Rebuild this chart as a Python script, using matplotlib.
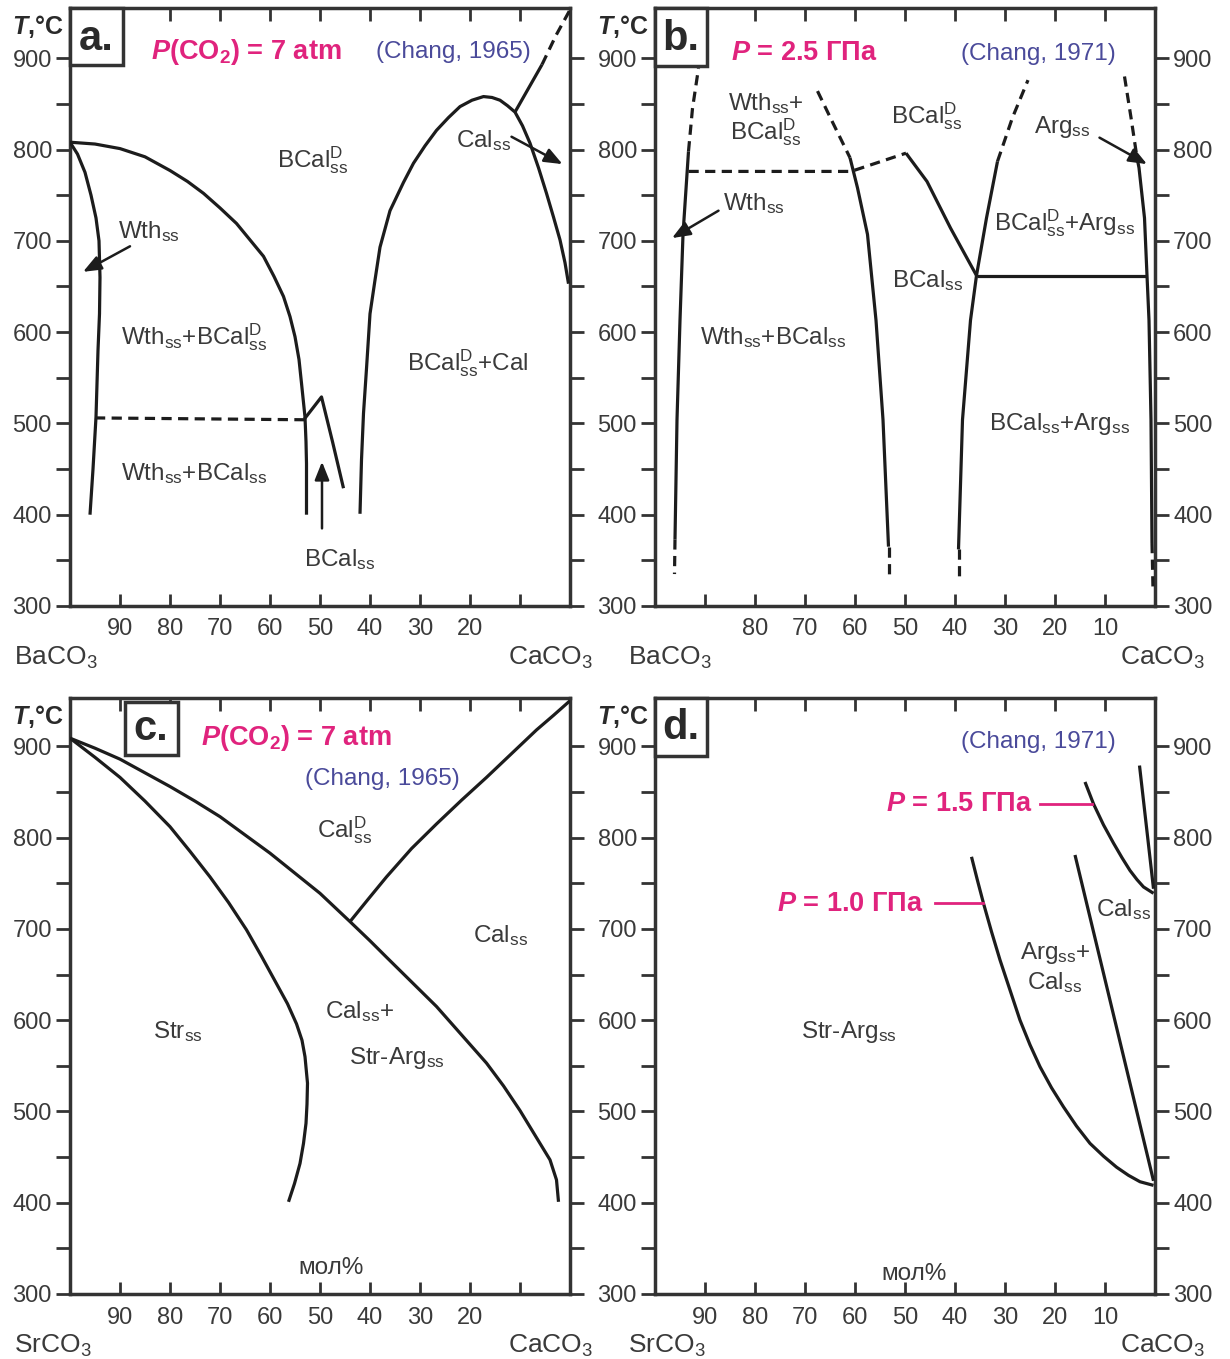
import matplotlib
matplotlib.use('Agg')
import matplotlib.pyplot as plt
from matplotlib.patches import Rectangle

plt.rcParams['font.family'] = ['Liberation Sans', 'DejaVu Sans']
plt.rcParams['mathtext.fontset'] = 'custom'
plt.rcParams['mathtext.rm'] = 'Liberation Sans'
plt.rcParams['mathtext.it'] = 'Liberation Sans:italic:bold'
plt.rcParams['mathtext.bf'] = 'Liberation Sans:bold'

# ---------------- data (x = mol% of the first end-member, T in deg C) ----------------
x_ticks = [90, 80, 70, 60, 50, 40, 30, 20, 10]
y_major = [300, 400, 500, 600, 700, 800, 900]
y_minor = [350, 450, 550, 650, 750, 850]
xlab_a = [90, 80, 70, 60, 50, 40, 30, 20]
xlab_b = [80, 70, 60, 50, 40, 30, 20, 10]
xlab_c = [90, 80, 70, 60, 50, 40, 30, 20]
xlab_d = [90, 80, 70, 60, 50, 40, 30, 20, 10]

# panel a: BaCO3-CaCO3, P(CO2)=7 atm
a_wth_x = [100, 98.5, 97, 95.8, 94.8, 94.2, 94.0, 94.1, 94.4, 94.8, 95.4, 96.0]
a_wth_T = [808, 795, 775, 750, 725, 700, 660, 620, 580, 507, 450, 400]
a_bcd_x = [100, 95, 90, 85, 80, 76.5, 73.3, 70, 66.7, 64, 61.3, 59.2, 57.3, 56, 55, 54.2, 53.7, 53.0, 52.8, 52.7, 52.7]
a_bcd_T = [808, 806, 801, 792, 777, 765, 752, 736, 719, 701, 683, 661, 639, 617, 595, 570, 544, 507, 480, 456, 400]
a_dash_x = [95.0, 53.1]
a_dash_T = [506, 504]
a_peak_x = [53.1, 49.7, 47.5, 45.3]
a_peak_T = [505, 529, 480, 429]
a_dome_x = [42.0, 41.7, 41.3, 40.7, 40.0, 39.0, 38.0, 36.0, 35.3, 33.3, 31.3, 29.0, 26.7, 24.3, 22.0, 19.6, 17.3, 15.6, 14.0, 12.5, 11.0, 9.5, 8.0, 6.3, 4.7, 3.3, 2.0, 1.0, 0.3]
a_dome_T = [401, 460, 511, 560, 620, 657, 693, 733, 741, 764, 785, 804, 821, 835, 847, 854, 858, 857, 854, 848, 841, 826, 807, 780, 752, 726, 701, 676, 653]
a_br_x = [11.0, 8.2, 5.6]
a_br_T = [841, 868, 893]
a_brd_x = [5.6, 2.8, 0.0]
a_brd_T = [893, 925, 953]

# panel b: BaCO3-CaCO3, P=2.5 GPa
b_wth_x = [96.0, 95.6, 95.0, 94.4, 93.3]
b_wth_T = [373, 504, 613, 707, 798]
b_wthd_top_x = [93.3, 92.5, 91.3]
b_wthd_top_T = [798, 845, 889]
b_wthd_bot_x = [96.0, 96.1]
b_wthd_bot_T = [373, 335]
b_hd_x = [93.3, 60.8, 49.8]
b_hd_T = [776, 776, 796]
b_mid_top_x = [67.5, 64.5, 61.0]
b_mid_top_T = [864, 830, 791]
b_mid_x = [61.0, 59.5, 57.5, 55.8, 54.4, 53.3]
b_mid_T = [791, 758, 707, 613, 504, 365]
b_mid_bot_x = [53.3, 53.3]
b_mid_bot_T = [365, 329]
b_bcal_x = [49.8, 45.6, 40.9, 35.7]
b_bcal_T = [796, 765, 714, 662]
b_h_x = [35.7, 1.6]
b_h_T = [662, 662]
b_la_x = [39.3, 38.5, 36.9, 35.7, 33.7, 31.5]
b_la_T = [362, 504, 613, 662, 725, 787]
b_la_top_x = [31.5, 28.5, 25.4]
b_la_top_T = [787, 835, 876]
b_la_bot_x = [39.3, 39.3]
b_la_bot_T = [362, 331]
b_ra_top_x = [6.1, 4.8, 3.6]
b_ra_top_T = [880, 835, 791]
b_ra_x = [3.6, 3.2, 2.1, 1.6, 1.2, 0.8, 0.6]
b_ra_T = [791, 780, 725, 662, 613, 504, 369]
b_ra_bot_x = [0.6, 0.4]
b_ra_bot_T = [369, 318]

# panel c: SrCO3-CaCO3, P(CO2)=7 atm
c_out_x = [100, 95, 90, 85, 80, 75, 70, 65, 60, 55, 50, 44, 40, 36.7, 31.7, 26.7, 21.7, 16.7, 13.3, 10, 7, 4, 2.7, 2.3]
c_out_T = [909, 898, 886, 871, 856, 840, 823, 803, 783, 761, 739, 708, 687, 669, 642, 615, 584, 553, 528, 501, 474, 447, 425, 401]
c_in_x = [100, 95, 90, 85, 80, 76, 72, 68.3, 64.7, 61.7, 58.7, 56.5, 54.7, 53.6, 53.0, 52.5, 52.6, 52.8, 53.3, 54.0, 55.1, 56.3]
c_in_T = [909, 888, 866, 840, 812, 785, 757, 729, 699, 670, 640, 618, 596, 578, 560, 531, 508, 487, 465, 443, 421, 401]
c_up_x = [44, 40.3, 36.7, 31.7, 26.7, 21.7, 16.7, 11.7, 6.7, 3.3, 0]
c_up_T = [708, 733, 757, 788, 815, 841, 866, 892, 918, 934, 950]

# panel d: SrCO3-CaCO3, P=1.0 and 1.5 GPa
d_10l_x = [36.7, 35.5, 34.3, 32.7, 31.0, 29.0, 27.0, 25.0, 23.0, 20.7, 18.3, 15.7, 13.0, 10.3, 7.7, 5.3, 3.0, 0.3]
d_10l_T = [779, 753, 728, 697, 666, 633, 600, 573, 549, 526, 505, 484, 465, 451, 439, 430, 423, 419]
d_10r_x = [16.0, 0.3]
d_10r_T = [781, 424]
d_15l_x = [14.0, 12.3, 10.3, 8.3, 6.6, 5.0, 3.6, 2.3, 0.3]
d_15l_T = [861, 837, 814, 794, 778, 764, 754, 746, 739]
d_15r_x = [3.1, 0.3]
d_15r_T = [879, 744]

# ---------------- styles ----------------
LC = '#1c1c1c'
SC = '#333333'
TC = '#3a3a3a'
MAG = '#e0237d'
BLU = '#4a4a9a'
LW = 2.3
DASH = (0, (3.2, 2.0))
LFS = 17.5

BCD = r"BCal$^{\mathrm{D}}_{\mathrm{ss}}$"
def ss(s):
    return s + r"$_{\mathrm{ss}}$"

fig = plt.figure(figsize=(12.3, 13.59), dpi=100)
W, H = 1230.0, 1359.0
ax_a = fig.add_axes([70 / W, (H - 606) / H, 500 / W, 598 / H])
ax_b = fig.add_axes([655 / W, (H - 606) / H, 500 / W, 598 / H])
ax_c = fig.add_axes([70 / W, (H - 1294) / H, 500 / W, 596 / H])
ax_d = fig.add_axes([655 / W, (H - 1294) / H, 500 / W, 596 / H])


def setup(ax, ytop, xlabels, right_lab, left_name, lname_fx, rname_fx, tag, box, tag_xy):
    ax.set_xlim(100, 0)
    ax.set_ylim(300, ytop)
    ax.set_xticks(x_ticks, labels=[str(v) if v in xlabels else '' for v in x_ticks])
    ax.set_yticks(y_major, labels=[str(v) for v in y_major])
    ax.set_yticks(y_minor, minor=True)
    ax.tick_params(axis='x', which='both', direction='in', top=True, bottom=True,
                   length=9, width=2.0, pad=9, labelsize=17, color=SC, labelcolor=TC)
    ax.tick_params(axis='y', which='both', direction='out', left=True, right=True,
                   length=10, width=2.0, pad=3, labelsize=17, color=SC, labelcolor=TC,
                   labelright=right_lab)
    for s in ax.spines.values():
        s.set_linewidth(2.5)
        s.set_color(SC)
    ax.set_facecolor('white')
    ax.text(-0.116, 0.956, r"$\mathit{T}$,°C", transform=ax.transAxes, ha='left',
            va='baseline', fontsize=18, fontweight='bold', color='#2a2a2a', clip_on=False)
    ax.text(lname_fx, -0.098, left_name, transform=ax.transAxes, ha='left',
            va='baseline', fontsize=19, color=TC, clip_on=False)
    ax.text(rname_fx, -0.098, r"CaCO$_{\mathrm{3}}$", transform=ax.transAxes, ha='right',
            va='baseline', fontsize=19, color=TC, clip_on=False)
    x0, x1, t0, t1 = box
    ax.add_patch(Rectangle((x0, t0), x1 - x0, t1 - t0, facecolor='white',
                           edgecolor=SC, lw=2.5, zorder=6, clip_on=False))
    ax.text(tag_xy[0], tag_xy[1], tag, ha='center', va='center', fontsize=30,
            fontweight='bold', color='#2a2a2a', zorder=7)


def curve(ax, x, T, dashed=False):
    ax.plot(x, T, color=LC, lw=LW, ls=DASH if dashed else '-',
            solid_capstyle='butt', dash_capstyle='butt', solid_joinstyle='round', zorder=3)


def lab(ax, x, T, s, **kw):
    p = dict(ha='center', va='baseline', fontsize=LFS, color=TC)
    p.update(kw)
    ax.text(x, T, s, **p)


def arrow(ax, tail, head):
    ax.annotate('', xy=head, xytext=tail,
                arrowprops=dict(arrowstyle='-|>,head_length=0.55,head_width=0.22',
                                color=LC, lw=1.8, shrinkA=0, shrinkB=0,
                                mutation_scale=20), zorder=4)


# ---------------- panel a ----------------
ax = ax_a
setup(ax, 955, xlab_a, False, r"BaCO$_{\mathrm{3}}$", -0.112, 1.046, 'a.',
      (100, 89.5, 893, 955), (94.8, 921))
curve(ax, a_wth_x, a_wth_T)
curve(ax, a_bcd_x, a_bcd_T)
curve(ax, a_dash_x, a_dash_T, dashed=True)
curve(ax, a_peak_x, a_peak_T)
curve(ax, a_dome_x, a_dome_T)
curve(ax, a_br_x, a_br_T)
curve(ax, a_brd_x, a_brd_T, dashed=True)
arrow(ax, (88, 694), (97.4, 666))
arrow(ax, (11.7, 814), (1.5, 784))
arrow(ax, (49.6, 385), (49.6, 458))
lab(ax, 64.7, 899, r"$\mathit{P}$(CO$_{\mathbf{2}}$) = 7 atm", fontsize=19.5,
    fontweight='bold', color=MAG)
lab(ax, 23.3, 900, "(Chang, 1965)", fontsize=17.5, color=BLU)
lab(ax, 51.4, 780, BCD)
lab(ax, 84.2, 703, ss("Wth"))
lab(ax, 17.2, 803, ss("Cal"))
lab(ax, 75.1, 587, ss("Wth") + "+" + BCD)
lab(ax, 20.5, 558, BCD + "+Cal")
lab(ax, 75.1, 438, ss("Wth") + "+" + ss("BCal"))
lab(ax, 46.0, 344, ss("BCal"))

# ---------------- panel b ----------------
ax = ax_b
setup(ax, 955, xlab_b, True, r"BaCO$_{\mathrm{3}}$", -0.054, 1.10, 'b.',
      (100, 89.7, 891, 955), (94.9, 921))
curve(ax, b_wth_x, b_wth_T)
curve(ax, b_wthd_top_x, b_wthd_top_T, dashed=True)
curve(ax, b_wthd_bot_x, b_wthd_bot_T, dashed=True)
curve(ax, b_hd_x, b_hd_T, dashed=True)
curve(ax, b_mid_top_x, b_mid_top_T, dashed=True)
curve(ax, b_mid_x, b_mid_T)
curve(ax, b_mid_bot_x, b_mid_bot_T, dashed=True)
curve(ax, b_bcal_x, b_bcal_T)
curve(ax, b_h_x, b_h_T)
curve(ax, b_la_x, b_la_T)
curve(ax, b_la_top_x, b_la_top_T, dashed=True)
curve(ax, b_la_bot_x, b_la_bot_T, dashed=True)
curve(ax, b_ra_top_x, b_ra_top_T, dashed=True)
curve(ax, b_ra_x, b_ra_T)
curve(ax, b_ra_bot_x, b_ra_bot_T, dashed=True)
arrow(ax, (87.3, 733), (96.6, 703))
arrow(ax, (11.1, 813), (1.6, 784))
lab(ax, 70.2, 898, r"$\mathit{P}$ = 2.5 ГПа", fontsize=19.5, fontweight='bold', color=MAG)
lab(ax, 23.4, 898, "(Chang, 1971)", fontsize=17.5, color=BLU)
lab(ax, 77.8, 843, ss("Wth") + "+")
lab(ax, 77.8, 811, BCD)
lab(ax, 45.7, 829, BCD)
lab(ax, 18.5, 818, ss("Arg"))
lab(ax, 80.2, 734, ss("Wth"))
lab(ax, 18.1, 711, BCD + "+" + ss("Arg"))
lab(ax, 45.5, 649, ss("BCal"))
lab(ax, 76.4, 587, ss("Wth") + "+" + ss("BCal"))
lab(ax, 19.0, 493, ss("BCal") + "+" + ss("Arg"))

# ---------------- panel c ----------------
ax = ax_c
setup(ax, 953, xlab_c, False, r"SrCO$_{\mathrm{3}}$", -0.112, 1.046, 'c.',
      (89.0, 78.5, 891, 949), (83.8, 919))
curve(ax, c_out_x, c_out_T)
curve(ax, c_in_x, c_in_T)
curve(ax, c_up_x, c_up_T)
lab(ax, 54.8, 902, r"$\mathit{P}$(CO$_{\mathbf{2}}$) = 7 atm", fontsize=19.5,
    fontweight='bold', color=MAG)
lab(ax, 37.6, 858, "(Chang, 1965)", fontsize=17.5, color=BLU)
lab(ax, 45.0, 800, r"Cal$^{\mathrm{D}}_{\mathrm{ss}}$")
lab(ax, 13.8, 686, ss("Cal"))
lab(ax, 42.1, 602, ss("Cal") + "+")
lab(ax, 34.6, 552, ss("Str-Arg"))
lab(ax, 78.5, 580, ss("Str"))
lab(ax, 47.8, 322, "мол%")

# ---------------- panel d ----------------
ax = ax_d
setup(ax, 953, xlab_d, True, r"SrCO$_{\mathrm{3}}$", -0.054, 1.10, 'd.',
      (100, 89.7, 889, 953), (94.9, 920))
curve(ax, d_10l_x, d_10l_T)
curve(ax, d_10r_x, d_10r_T)
curve(ax, d_15l_x, d_15l_T)
curve(ax, d_15r_x, d_15r_T)
ax.plot([23.0, 12.6], [837, 837], color=MAG, lw=2.0, zorder=3)
ax.plot([44.0, 34.4], [728, 728], color=MAG, lw=2.0, zorder=3)
lab(ax, 39.2, 829, r"$\mathit{P}$ = 1.5 ГПа", fontsize=19.5, fontweight='bold', color=MAG)
lab(ax, 60.9, 720, r"$\mathit{P}$ = 1.0 ГПа", fontsize=19.5, fontweight='bold', color=MAG)
lab(ax, 23.4, 898, "(Chang, 1971)", fontsize=17.5, color=BLU)
lab(ax, 6.2, 714, ss("Cal"))
lab(ax, 20.0, 667, ss("Arg") + "+")
lab(ax, 20.0, 634, ss("Cal"))
lab(ax, 61.3, 580, ss("Str-Arg"))
lab(ax, 48.2, 315, "мол%")

fig.savefig('out.png', dpi=100, facecolor='white')
